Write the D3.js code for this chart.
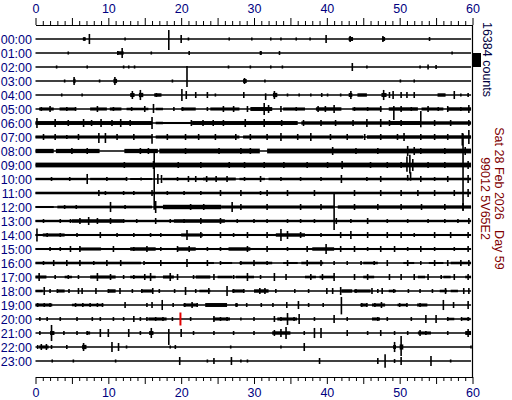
<!DOCTYPE html>
<html>
<head>
<meta charset="utf-8">
<script src="https://cdn.jsdelivr.net/npm/d3@7"></script>
<style>
  body { margin: 0; background: #fff; }
  text { font-family: "Liberation Sans", Arial, sans-serif; }
</style>
</head>
<body>
<div id="heli"></div>
<script>
// helicorder, one trace per hour, minutes along x
const hourLabels = d3.range(24).map(h => String(h).padStart(2, "0") + ":00");
const minuteTicks = d3.range(0, 61);
const scaleCounts = 16384;
const dateText = "Sat 28 Feb 2026   Day 59";
const stationText = "99012 5V65E2";

// spikes per hour: [minute, up (k counts), down (k counts, optional)]
const spikes = [
  [[6.7,2],[7.4,5.9],[12.3,1.8],[18.3,10.5,12.9],[20.0,4.7],[21.0,1.8],[26.6,1.8],[29.7,1.8],[32.3,1.8],[33.7,1.8],[35.8,1.8],[37.7,1.8],[39.9,4.7],[43.2,3.5],[47.7,3.5],[54.1,2.3]],
  [[4.5,1.8],[11.3,2.3],[11.9,5.9],[15.9,1.8],[21.1,2.3],[30.9,2.3],[33.5,2.3],[57.2,1.8]],
  [[2.9,1.8],[7.1,1.8],[12.1,1.8],[12.8,1.8],[13.6,1.8],[26.5,1.8],[29.5,1.8],[32.3,1.8],[33.9,1.8],[43.5,4.7],[45.5,1.8],[52.8,1.8],[53.9,2.8],[55.0,2.3]],
  [[4.0,1.8],[5.3,4.7],[8.8,1.8],[10.9,4.7],[18.8,1.8],[20.8,17.5,7],[28.7,3.5],[31.5,1.8],[50.1,1.8],[52.0,1.8]],
  [[3.6,1.8],[6.4,1.8],[13.3,4.7],[14.4,5.9],[16.6,2.3],[20.1,7],[20.7,4.7],[22.0,3.5],[23.6,3.5],[24.7,1.8],[28.6,3.5],[31.6,2,5.9],[32.8,4.7],[34.6,1.8],[36.2,1.8],[37.8,1.8],[39.3,2.3],[40.1,1.8],[41.9,1.8],[43.3,4.7],[47.8,5.9],[48.6,3.5],[49.1,4.7],[50.2,3.5],[51.0,3.5],[52.0,3.5],[57.5,4.7],[58.4,1.8],[59.4,2.3]],
  [[0.8,2.3],[2.0,3.5],[4.3,2.3],[5.5,2.3],[8.5,3.5],[10.7,2.3],[13.2,2.3],[15.0,3.5],[16.2,5.9,4.7],[19.0,2.3],[20.2,2.3],[23.6,2.3],[25.8,3.5],[27.2,3.5],[29.1,3.5],[31.4,7],[32.0,4.7],[33.7,3.5],[35.8,2.3],[38.8,3.5],[39.8,3.5],[41.0,4.7],[43.8,2.3],[45.6,2.3],[47.4,3.5],[49.2,3.5,13],[50.2,3.5],[51.6,2.3],[53.9,3.5],[55.3,2.3],[56.6,3.5],[58.4,2.3],[59.5,4.7]],
  [[0.2,5.9],[2.7,4.7],[4.5,3.5],[6.6,4.7],[7.7,3.5],[9.0,4.7],[10.5,3.5],[11.7,4.7],[13.0,3.5],[16.0,7],[21.4,3.5],[23.0,3.5],[24.4,3.5],[25.8,3.5],[28.8,4.7],[31.4,4.7],[33.8,3.5],[36.8,3.5],[39.2,3.5],[41.2,3.5],[43.6,3.5],[45.5,4.7],[47.4,4.7],[48.6,3.5],[50.2,3.5],[52.9,14,5],[54.8,3.5],[57.0,3.5],[59.5,3.5]],
  [[1.1,3.5],[2.7,3.5],[4.3,2.3],[5.9,3.5],[8.7,4.7,7],[9.6,4.7,7],[11.2,3.5],[13.5,3.5],[16.0,3.5,8],[18.1,3.5],[20.6,3.5],[22.4,3.5],[24.7,3.5],[27.5,3.5],[29.5,3.5],[31.8,3.5],[33.7,4.7],[36.0,3.5],[37.8,4.7],[40.5,3.5],[42.8,3.5],[45.2,3.5],[47.4,3.5],[49.7,3.5],[50.6,4.7],[52.9,3.5],[54.8,3.5],[56.6,3.5],[58.6,4.7,10],[59.5,8.2]],
  [[5.0,3.5],[7.1,3.5],[8.5,2.3],[14.4,3.5],[15.5,3.5],[20.6,3.5],[25.2,3.5],[28.2,3.5],[29.5,3.5],[40.8,4.7],[44.0,3.5],[47.0,3.5],[51.1,5.9],[52.0,4.7],[52.9,3.5],[56.2,3.5],[59.0,4.7]],
  [[12.2,3.5],[16.2,4.7],[19.6,3.5],[22.7,3.5],[26.6,3.5],[28.7,3.5],[31.4,3.5],[34.1,3.5],[37.3,3.5],[40.1,3.5],[42.1,4.7],[46.0,3.5],[48.3,3.5],[50.2,3.5],[51.0,10,8],[51.4,12,10],[51.8,7],[53.9,3.5],[56.2,3.5],[58.7,37,53],[59.4,4.7]],
  [[2.2,2.3],[4.7,2.3],[7.1,5.9],[9.8,2.3],[12.5,2.3],[14.5,1.8],[16.3,34,36],[16.8,5.9],[17.3,4.7],[19.5,2.3],[21.0,3.5],[22.0,3.5],[23.5,3.5],[24.8,3.5],[26.3,3.5],[28.7,2.3],[30.9,3.5],[33.7,2.3],[36.4,2.3],[39.2,2.3],[42.0,4.7],[45.5,2.3],[47.4,3.5],[51.1,4.7,2],[51.5,8,2],[52.9,3.5],[54.8,2.3],[56.6,3.5],[59.4,4.7]],
  [[8.7,3.5],[9.6,2.3],[12.1,2.3],[13.5,2.3],[16.0,3.5],[18.1,2.3],[20.4,2.3],[22.7,2.3],[25.4,3.5],[28.2,3.5],[30.9,2.3],[31.8,3.5],[34.6,3.5],[38.3,3.5],[43.8,3.5],[47.4,3.5],[50.2,3.5],[52.5,3.5],[54.8,3.5],[57.5,3.5],[59.4,4.7]],
  [[4.0,2.3],[5.6,2.3],[10.3,5.9],[12.3,2.3],[16.5,7],[19.0,2.3],[21.3,3.5],[23.1,3.5],[27.0,5.9],[28.2,3.5],[31.8,3.5],[36.4,3.5],[39.2,3.5],[41.0,16,27],[43.8,3.5],[47.0,3.5],[50.2,3.5],[53.0,3.5],[56.2,3.5],[58.7,4.7]],
  [[1.1,2.3],[3.4,2.3],[4.8,2.3],[6.1,3.5],[7.3,4.7],[8.5,3.5],[10.3,3.5],[12.1,2.3],[13.9,2.3],[16.5,3.5],[18.5,2.3],[20.4,2.3],[22.7,3.5],[25.4,3.5],[27.7,2.3],[30.0,2.3],[31.8,2.3],[34.6,2.3],[36.4,2.3],[38.3,2.3],[41.3,3.5],[43.3,2.3],[45.6,3.5],[48.3,2.3],[51.1,2.3],[53.9,2.3],[56.2,2.3],[58.0,2.3],[59.5,3.5]],
  [[0.2,7.5],[1.6,2.3],[3.4,2.3],[5.7,2.3],[8.9,3.5],[11.2,2.3],[13.5,2.3],[15.8,2.3],[17.2,2.3],[20.8,5.9],[22.7,3.5],[25.4,3.5],[27.2,2.3],[29.1,3.5],[31.8,3.5],[33.7,7],[34.6,4.7],[36.4,3.5],[39.2,2.3],[41.9,3.5],[43.3,4.7],[45.6,3.5],[48.3,3.5],[50.2,3.5],[52.0,2.3],[54.8,3.5],[57.0,3.5],[59.4,3.5]],
  [[2.0,2.3],[3.4,2.3],[4.8,3.5],[6.1,3.5],[10.7,3.5],[13.5,2.3],[15.3,3.5],[17.2,2.3],[19.5,3.5],[21.1,3.5],[23.6,2.3],[25.4,2.3],[29.1,3.5],[31.8,3.5],[34.6,2.3],[37.3,3.5],[39.9,5.9],[41.9,3.5],[43.8,3.5],[45.6,2.3],[47.4,3.5],[49.3,3.5],[51.1,2.3],[52.9,3.5],[54.8,2.3],[57.5,2.3],[59.4,3.5]],
  [[1.1,2.3],[2.5,3.5],[4.3,3.5],[6.1,3.5],[8.0,2.3],[9.8,3.5],[11.7,3.5],[14.9,2.3],[17.2,3.5],[20.8,4.7],[23.6,3.5],[25.4,2.3],[28.2,2.3],[30.0,3.5],[31.8,2.3],[34.6,3.5],[37.3,3.5],[39.2,3.5],[41.0,2.3],[42.8,2.3],[44.7,2.3],[46.5,2.3],[48.3,3.5],[51.1,3.5],[52.9,2.3],[54.8,3.5],[56.6,3.5],[58.4,3.5],[59.5,3.5]],
  [[0.5,4.7],[2.7,2.3],[4.5,2.3],[5.9,2.3],[8.5,4.7],[10.3,3.5],[12.1,2.3],[13.5,2.3],[15.0,3.5],[15.8,4.7],[18.5,4.7],[19.5,3.5],[21.7,2.3],[24.5,3.5],[27.2,2.3],[29.1,4.7],[30.9,2.3],[32.8,4.7],[34.4,3.5],[37.8,3.5],[39.4,3.5],[41.0,4.7],[43.8,3.5],[45.6,3.5],[48.6,3.5],[50.2,3.5],[52.0,3.5],[53.9,3.5],[55.7,2.3],[57.5,3.5],[59.4,3.5]],
  [[1.2,4.7],[2.0,2.3],[3.0,2.3],[4.6,2.3],[5.9,3.5],[6.4,3.5],[8.3,3.5],[10.0,2.3],[11.6,3.5],[13.3,2.3],[14.6,2.3],[16.1,3.5],[17.0,2.3],[19.1,2.3],[20.6,4.7],[22.0,2.3],[23.8,3.5],[26.3,5.9],[27.2,2.3],[28.6,2.3],[30.8,3.5],[31.5,3.5],[33.0,2.3],[35.6,2.3],[37.5,2.3],[40.0,3.5],[40.8,3.5],[41.9,4.7],[44.0,2.3],[46.2,3.5],[47.0,2.3],[47.6,3.5],[49.2,2.3],[51.2,2.3],[52.8,2.3],[54.5,2.3],[56.3,3.5],[58.8,3.5],[59.5,3.5]],
  [[0.3,2.3],[1.2,2.3],[2.0,2.3],[5.5,2.3],[6.5,2.3],[7.5,2.3],[8.5,2.3],[9.2,2.3],[12.3,3.5],[15.3,2.3],[16.0,3.5],[17.4,5.9],[18.9,2.3],[20.5,2.3],[21.5,3.5],[22.2,2.3],[27.6,2.3],[29.0,2.3],[31.0,2.3],[32.6,2.3],[34.5,3.5],[36.1,4.7],[37.5,2.3],[39.5,2.3],[42.0,9.4,11],[44.8,2.3],[45.5,2.3],[46.6,2.3],[47.5,3.5],[50.0,2.3],[51.0,2.3],[52.8,2.3],[56.0,5.9],[57.4,3.5],[59.4,4.7]],
  [[0.6,2.3],[1.6,2.3],[3.4,2.3],[5.7,2.3],[7.8,2.3],[8.9,2.3],[10.7,2.3],[12.1,2.3],[13.5,3.5],[14.4,2.3],[15.3,2.3],[16.5,2.3],[17.5,2.3],[18.8,2.3],[21.3,2.3],[24.5,3.5],[25.4,2.3],[26.3,2.3],[28.2,1.8],[30.0,2.3],[32.8,3.5],[33.7,2.3],[34.6,7],[35.5,2.3],[36.2,5.9],[38.3,2.3],[41.0,4.7],[42.8,2.3],[47.0,2.3],[48.3,2.3],[51.6,2.3],[53.6,4.7],[55.0,4.7],[56.6,2.3],[58.5,2.3],[59.4,2.3]],
  [[0.6,2.3],[2.2,9.4],[3.9,2.3],[5.7,2.3],[7.1,2.3],[8.9,4.7],[10.0,4.7],[12.8,4.7],[14.4,2.3],[15.9,5.9],[18.3,4.7,14],[20.0,4.7],[21.7,2.3],[24.5,2.3],[27.2,2.3],[30.0,2.3],[32.8,3.5],[33.7,4.7],[34.4,7],[36.9,2.3],[38.3,5.9],[39.2,5.9],[42.8,3.5],[45.6,2.3],[47.4,3.5],[49.3,2.3],[51.1,2.3],[52.8,3.5],[53.6,2.3],[56.6,2.3],[59.4,4.7]],
  [[0.3,2.3],[0.8,3.5],[1.5,3.5],[2.2,2.3],[4.3,2.3],[6.6,4.7],[10.5,5.9],[11.4,4.7],[12.5,1.8],[18.5,1.8],[19.2,2.3],[26.8,1.8],[33.7,1.8],[36.9,4.7],[49.3,5.9],[50.2,12.9,10.5],[59.8,1.8]],
  [[2.3,1.8],[5.2,1.8],[11.0,1.8],[19.8,4.7],[23.6,1.8],[24.5,3.5],[26.9,4.7],[28.2,1.8],[29.1,1.8],[39.0,3.5],[47.0,3.5],[48.0,8],[49.3,2.3],[50.2,4.7],[54.3,5.9],[57.0,1.8]]
];

// noisy stretches per hour: [start minute, end minute, half amplitude (k counts)]
const bursts = [
  [[6.5,6.9,2],[43.0,43.6,2.3],[47.6,48.0,2.3]],
  [[11.2,12.1,2],[30.8,31.1,2]],
  [],
  [[5.2,5.5,2.5],[10.7,11.2,2.5],[28.5,29.0,2.3]],
  [[13.0,13.6,2.3],[14.2,14.8,2.5],[16.3,17.3,2],[32.6,33.2,2.5],[43.0,43.5,2.3],[44.2,45.5,2],[47.5,48.2,2.3],[55.2,56.3,2]],
  [[0.5,2.5,1.8],[3.3,5.5,1.8],[7.5,9.8,1.8],[10.2,11.8,1.8],[12.5,15.5,1.5],[16.5,17.5,1.5],[20.0,22.0,1.8],[24.0,28.0,1.8],[29.5,32.5,2.3],[34.0,37.0,1.8],[38.5,42.0,2],[43.5,47.5,1.8],[48.5,52.5,2],[53.0,56.0,1.8],[56.5,59.8,2]],
  [[0,16.0,2.3],[16.5,17.5,1.5],[17.5,21.5,1.2],[21.5,36,2.3],[36.5,48.5,2],[48.5,53,2.3],[53,59.8,2]],
  [[0,16,1.8],[16.5,28,1.8],[28.5,45,1.8],[45.5,59.8,2]],
  [[0,2.5,2.5],[2.8,8.8,2.5],[12.2,16.8,2.5],[17,30.8,2.8],[31.8,59.8,2.8]],
  [[0,59.8,2.8]],
  [[0,7,1.4],[7.5,12.5,1.4],[13,16,1.2],[17.5,23,1.4],[23,27.5,1.7],[28,31.5,1.4],[32,59.8,1.5]],
  [[0,59.8,1.5]],
  [[0,2.5,1.2],[3,16,1.6],[16.5,17.5,1.4],[17.5,25.5,2.6],[25.5,41,1.8],[41.5,59.8,1.9]],
  [[0,59.8,1.4],[5,12,2],[19,26,2]],
  [[0,59.8,1.2],[1,4,1.8],[20,23,1.8],[33,37,2]],
  [[0,59.8,1.2],[6,9,1.8],[13,16.5,2],[19.5,22,2],[26.5,29.5,2],[38,41,2]],
  [[0,14.5,1.5],[15,24.5,1.2],[25.5,27,1.2],[28,32.5,1.5],[34,36,1.2],[36.5,39.5,1.5],[45,47,1.5],[50.5,52,1.2],[54,56,1.2],[57,59.8,1.5]],
  [[0,1.5,1.8],[4,5,1.5],[7.5,11,1.8],[13,16.5,1.5],[17.5,19,1.8],[22,24,1.8],[25,27,1.5],[27.5,30,1.5],[37,38.5,1.5],[39,41,1.5],[45,46.5,1.5],[52.5,53.5,1.5],[56,57,1.5],[59,59.8,1.5]],
  [[0,1,1.5],[3,4,1.8],[10,11,2],[14.5,16,1.8],[22.5,24,1.5],[27,28.5,1.8],[30,32,2],[42,43.5,2],[43.7,46,1.8],[48.5,49.5,1.5],[55.5,56.5,1.5],[57,58,1.5]],
  [[0,2.3,1.8],[5,9.3,1.5],[20.3,22.2,1.8],[23.3,26.3,2.3],[27.4,27.8,1.8],[44.6,45.5,1.8],[46.2,48,1.8],[49.7,51,1.5],[52.4,53.8,1.8]],
  [[15.5,18,1.8],[24.4,26.7,1.8],[33.2,35.9,1.8],[46.2,47.3,1.8],[56.5,57.5,1.5],[58.6,59.7,1.5]],
  [[2,2.6,2.3],[7,7.5,1.8],[15.6,16.2,2.3],[32.5,35,2],[52.5,54.3,1.8],[59,59.8,2.3]],
  [[0.5,1.8,1.8],[6.4,7.0,2.5],[49.1,49.5,2.3],[50,50.5,3]],
  []
];

// red time marker
const markerHour = "20:00";
const markerMinute = 19.9;
const markerHalf = 7.6;

const width = 512, height = 400;
const axisTopY = 25, axisBottomY = 377;

const svg = d3.select("#heli").append("svg")
    .attr("width", width)
    .attr("height", height);

const x = d3.scaleLinear().domain([0, 60]).range([35.5, 472.5]);
const y = d3.scalePoint().domain(hourLabels).range([39, 361]);
const amp = d3.scaleLinear().domain([0, scaleCounts]).range([0, 14]);
const k = v => amp(v * 1000);

// axes
function styleAxis(g, dir) {
    g.select(".domain").attr("stroke", "#000").attr("stroke-width", 1.2);
    g.selectAll(".tick line")
        .attr("stroke", "#000")
        .attr("y2", d => dir * (d % 5 === 0 ? 7 : 4));
    g.selectAll(".tick text")
        .attr("fill", "#000080")
        .attr("font-size", "12.5px")
        .attr("dy", null)
        .attr("y", dir < 0 ? -12 : 20);
}

const axisTopG = svg.append("g")
    .attr("transform", `translate(0,${axisTopY})`)
    .call(d3.axisTop(x).tickValues(minuteTicks).tickSizeOuter(0)
        .tickFormat(d => d % 10 === 0 ? d : ""));
styleAxis(axisTopG, -1);

const axisBottomG = svg.append("g")
    .attr("transform", `translate(0,${axisBottomY})`)
    .call(d3.axisBottom(x).tickValues(minuteTicks).tickSizeOuter(0)
        .tickFormat(d => d % 10 === 0 ? d : ""));
styleAxis(axisBottomG, 1);

svg.append("line")
    .attr("x1", x(60)).attr("x2", x(60))
    .attr("y1", axisTopY).attr("y2", axisBottomY)
    .attr("stroke", "#000").attr("stroke-width", 1.2);

// hour labels
svg.append("g").selectAll("text")
    .data(hourLabels)
    .enter()
    .append("text")
    .attr("x", 32)
    .attr("y", d => y(d) + 4.5)
    .attr("text-anchor", "end")
    .attr("font-size", "12.5px")
    .attr("fill", "#000080")
    .text(d => d);

// traces
const rows = svg.append("g").selectAll("g")
    .data(hourLabels)
    .enter()
    .append("g")
    .attr("transform", d => `translate(0,${y(d)})`);

rows.append("line")
    .attr("x1", x(0)).attr("x2", x(59.8))
    .attr("stroke", "#000").attr("stroke-width", 1.5);

rows.selectAll("rect")
    .data((d, i) => bursts[i])
    .enter()
    .append("rect")
    .attr("x", d => x(d[0]))
    .attr("width", d => x(d[1]) - x(d[0]))
    .attr("y", d => -k(d[2]))
    .attr("height", d => 2 * k(d[2]))
    .attr("fill", "#000");

rows.selectAll("line.spike")
    .data((d, i) => spikes[i])
    .enter()
    .append("line")
    .attr("class", "spike")
    .attr("x1", d => x(d[0])).attr("x2", d => x(d[0]))
    .attr("y1", d => -k(d[1]))
    .attr("y2", d => k(d.length > 2 ? d[2] : d[1]))
    .attr("stroke", "#000")
    .attr("stroke-width", 1.6);

svg.append("line")
    .attr("x1", x(markerMinute)).attr("x2", x(markerMinute))
    .attr("y1", y(markerHour) - k(markerHalf))
    .attr("y2", y(markerHour) + k(markerHalf))
    .attr("stroke", "#e00000")
    .attr("stroke-width", 2);

// scale bar and side text
svg.append("rect")
    .attr("x", 473)
    .attr("y", 53)
    .attr("width", 8)
    .attr("height", amp(scaleCounts))
    .attr("fill", "#000");

function sideText(cx, cy, txt, color) {
    svg.append("text")
        .attr("transform", `translate(${cx},${cy}) rotate(90)`)
        .attr("text-anchor", "middle")
        .attr("dominant-baseline", "central")
        .attr("font-size", "12.5px")
        .attr("fill", color)
        .attr("xml:space", "preserve")
        .style("white-space", "pre")
        .text(txt);
}
sideText(487, 59.5, scaleCounts + " counts", "#000040");
sideText(499, 198.5, dateText, "#800000");
sideText(485, 198.5, stationText, "#800000");
</script>
</body>
</html>
